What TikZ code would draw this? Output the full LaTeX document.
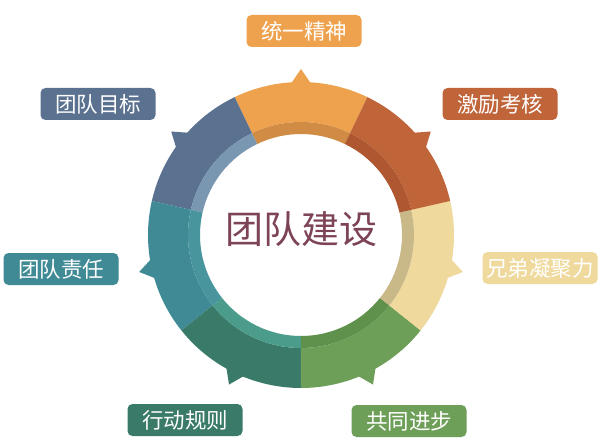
\documentclass[tikz,border=0pt]{standalone}
\usepackage{fontspec}
\newfontfamily\cjk{Noto Sans CJK SC}
\usetikzlibrary{positioning}
\definecolor{unity}{HTML}{EFA24E}
\definecolor{unityin}{HTML}{D08C44}
\definecolor{incent}{HTML}{C0643A}
\definecolor{incentin}{HTML}{AF5731}
\definecolor{bond}{HTML}{EFD99C}
\definecolor{bondin}{HTML}{C9B888}
\definecolor{progress}{HTML}{6E9F58}
\definecolor{progressin}{HTML}{5F904C}
\definecolor{rules}{HTML}{3A7A68}
\definecolor{rulesin}{HTML}{4B9C8A}
\definecolor{duty}{HTML}{3F8A95}
\definecolor{dutyin}{HTML}{48959E}
\definecolor{goal}{HTML}{5A7190}
\definecolor{goalin}{HTML}{7A97B2}
\definecolor{core}{HTML}{7D4357}
\tikzset{
  tag/.style={
    fill=#1, rounded corners=5pt, inner sep=0pt, minimum height=32pt,
    minimum width=115pt, align=center, text=white,
    font=\cjk\fontsize{21.5}{24}\selectfont},
  ttl/.style={font=\cjk\fontsize{38}{40}\selectfont, text=core, inner sep=0pt},
}

\begin{document}
\begin{tikzpicture}[x=1pt, y=1pt]
\fill[white] (0,0) rectangle (600,440);
\useasboundingbox (0,0) rectangle (600,440);

% =====================================================================
\coordinate (hub) at (301,205);
\begin{scope}[shift={(hub)}]
\foreach \nm/\mid in {unity/90, goal/141.43, duty/192.86, rules/244.29,
                      progress/295.71, bond/347.14, incent/38.57} {
  \pgfmathsetmacro{\aa}{\mid-25.72}
  \pgfmathsetmacro{\bb}{\mid+25.72}
  \fill[\nm] (\aa:153) arc[start angle=\aa, end angle=\bb, radius=153]
    -- (\bb:113) arc[start angle=\bb, end angle=\aa, radius=113] -- cycle;
  \fill[\nm in] (\aa:113) arc[start angle=\aa, end angle=\bb, radius=113]
    -- (\bb:101) arc[start angle=\bb, end angle=\aa, radius=101] -- cycle;
  % the little spike on each piece
  \fill[\nm] (\mid-4:151) -- (\mid:166) -- (\mid+4:151) -- cycle;
}
\end{scope}

\node[ttl] (title) at (301,211) {团队建设};

% =====================================================================
\node[tag=unity]    (tunity)    at (304,409) {统一精神};
\node[tag=goal]     (tgoal)     at (98,336)  {团队目标};
\node[tag=incent]   (tincent)   at (500,336) {激励考核};
\node[tag=duty]     (tduty)     at (61,171)  {团队责任};
\node[tag=bond]     (tbond)     at (540,172) {兄弟凝聚力};
\node[tag=rules]    (trules)    at (185,20)  {行动规则};
\node[tag=progress] (tprogress) at (409,19)  {共同进步};

\end{tikzpicture}
\end{document}
